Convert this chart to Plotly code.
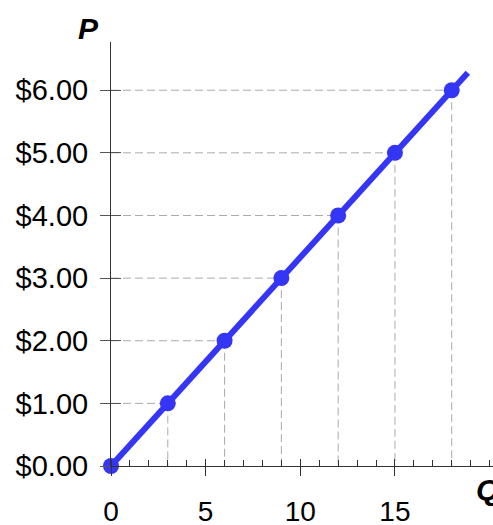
import plotly.graph_objects as go

# Data
quantities = [0, 3, 6, 9, 12, 15, 18]
prices = [0.0, 1.0, 2.0, 3.0, 4.0, 5.0, 6.0]
line_end_q = 18.85
line_end_p = 6.28
x_tick_vals = [0, 5, 10, 15]
x_tick_text = ["0", "5", "10", "15"]
y_tick_vals = [0, 1, 2, 3, 4, 5, 6]
y_tick_text = ["$0.00", "$1.00", "$2.00", "$3.00", "$4.00", "$5.00", "$6.00"]

BLUE = "#3535f5"
GRID = "#aaaaaa"
AX = "#333333"
FONT = "Liberation Sans, Arial, sans-serif"
X_RANGE = [0, 20.18]
Y_RANGE = [0, 6.77]

# dashed guide lines built from data
gx, gy = [], []
for q, p in zip(quantities, prices):
    if q == 0:
        continue
    gx += [0, q, None, q, q, None]
    gy += [p, p, None, p, 0, None]

fig = go.Figure()
fig.add_trace(go.Scatter(x=gx, y=gy, mode="lines",
                         line=dict(color=GRID, width=1, dash="8px,4px"),
                         hoverinfo="skip", showlegend=False))
fig.add_trace(go.Scatter(x=quantities + [line_end_q], y=prices + [line_end_p],
                         mode="lines", line=dict(color=BLUE, width=6),
                         showlegend=False, cliponaxis=False))
fig.add_trace(go.Scatter(x=quantities, y=prices, mode="markers",
                         marker=dict(color=BLUE, size=16),
                         showlegend=False, cliponaxis=False))

fig.update_layout(
    width=493, height=525,
    margin=dict(l=111, r=0, t=42, b=59, autoexpand=False),
    plot_bgcolor="white", paper_bgcolor="white",
    font=dict(family=FONT, size=29, color="black"),
    xaxis=dict(range=X_RANGE, showline=True, linecolor=AX, linewidth=1,
               showgrid=False, zeroline=False, automargin=False,
               tickvals=x_tick_vals, ticktext=x_tick_text,
               ticks="outside", ticklen=9, tickcolor=AX, tickwidth=1,
               ticklabelstandoff=11,
               tickfont=dict(size=28, family=FONT),
               minor=dict(dtick=1, tick0=0, ticks="inside", ticklen=6,
                          tickcolor=AX, tickwidth=1, showgrid=False)),
    xaxis2=dict(overlaying="x", anchor="y", matches="x", range=X_RANGE,
                tickvals=x_tick_vals, showticklabels=False, automargin=False,
                ticks="inside", ticklen=7, tickcolor=AX, tickwidth=1,
                showgrid=False, zeroline=False, showline=False),
    yaxis=dict(range=Y_RANGE, showline=True, linecolor=AX, linewidth=1,
               showgrid=False, zeroline=False, automargin=False,
               tickvals=y_tick_vals, ticktext=y_tick_text,
               ticks="outside", ticklen=10, tickcolor="#555555", tickwidth=1,
               ticklabelstandoff=6,
               tickfont=dict(size=29, family=FONT)),
    yaxis2=dict(overlaying="y", anchor="x", matches="y", range=Y_RANGE,
                side="left", tickvals=y_tick_vals, showticklabels=False,
                automargin=False,
                ticks="inside", ticklen=10, tickcolor="#555555", tickwidth=1,
                showgrid=False, zeroline=False, showline=False),
    annotations=[
        dict(text="<b><i>P</i></b>", xref="paper", yref="paper",
             x=-0.058, y=1.033, xanchor="center", yanchor="middle",
             showarrow=False,
             font=dict(size=30, family=FONT, color="black")),
        dict(text="<b><i>Q</i></b>", xref="paper", yref="paper",
             x=0.985, y=-0.055, xanchor="center", yanchor="middle",
             showarrow=False,
             font=dict(size=30, family=FONT, color="black")),
    ],
)
# dummy trace to activate overlay axes
fig.add_trace(go.Scatter(x=[None], y=[None], xaxis="x2", yaxis="y2",
                         showlegend=False, hoverinfo="skip"))

fig.write_html("out.html", config={"displayModeBar": False})

# remove default page margin so the figure sits at the window's top-left
with open("out.html", "r", encoding="utf-8") as f:
    html = f.read()
html = html.replace("<body>", '<body style="margin:0">', 1)
with open("out.html", "w", encoding="utf-8") as f:
    f.write(html)
